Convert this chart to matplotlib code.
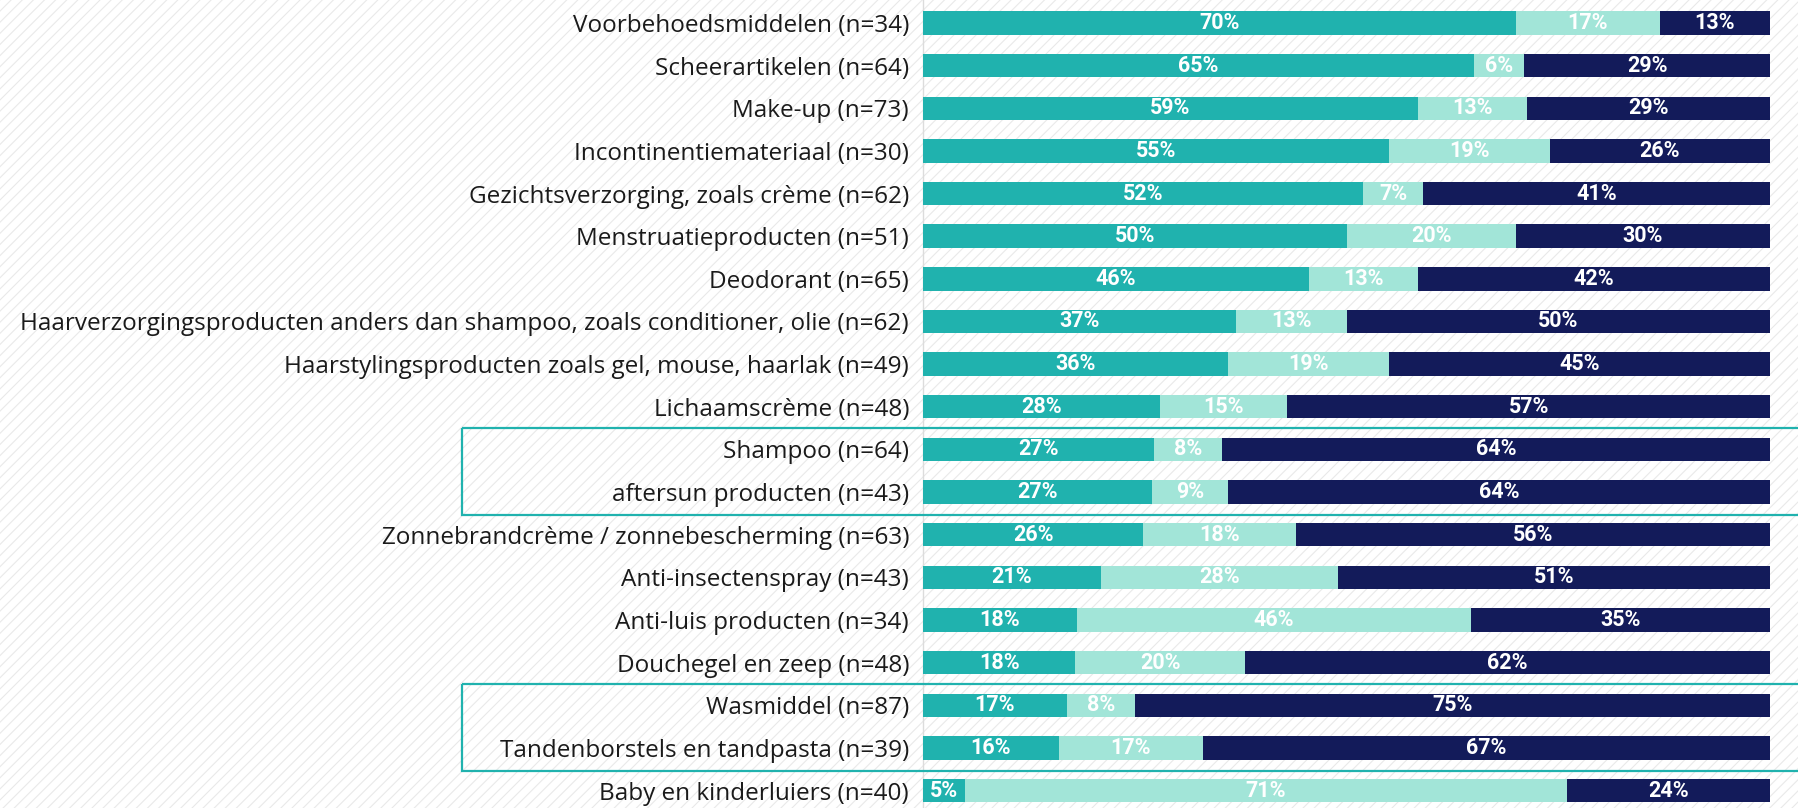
import numpy as np
import matplotlib.pyplot as plt
from matplotlib.patches import Rectangle

# --- data ---
categories = [
    "Voorbehoedsmiddelen (n=34)",
    "Scheerartikelen (n=64)",
    "Make-up (n=73)",
    "Incontinentiemateriaal (n=30)",
    "Gezichtsverzorging, zoals crème (n=62)",
    "Menstruatieproducten (n=51)",
    "Deodorant (n=65)",
    "Haarverzorgingsproducten anders dan shampoo, zoals conditioner, olie (n=62)",
    "Haarstylingsproducten zoals gel, mouse, haarlak (n=49)",
    "Lichaamscrème (n=48)",
    "Shampoo (n=64)",
    "aftersun producten (n=43)",
    "Zonnebrandcrème / zonnebescherming (n=63)",
    "Anti-insectenspray (n=43)",
    "Anti-luis producten (n=34)",
    "Douchegel en zeep (n=48)",
    "Wasmiddel (n=87)",
    "Tandenborstels en tandpasta (n=39)",
    "Baby en kinderluiers (n=40)",
]
teal_pct = [70, 65, 59, 55, 52, 50, 46, 37, 36, 28, 27, 27, 26, 21, 18, 18, 17, 16, 5]
mint_pct = [17, 6, 13, 19, 7, 20, 13, 13, 19, 15, 8, 9, 18, 28, 46, 20, 8, 17, 71]
navy_pct = [13, 29, 29, 26, 41, 30, 42, 50, 45, 57, 64, 64, 56, 51, 35, 62, 75, 67, 24]

# rows that get a highlight box (first row of each pair)
boxed_rows = [10, 16]

TEAL = "#20B2AE"
MINT = "#A2E5D8"
NAVY = "#131B5A"

plt.rcParams["font.family"] = ["Roboto", "DejaVu Sans"]
plt.rcParams["hatch.linewidth"] = 0.8

fig = plt.figure(figsize=(17.98, 8.08), dpi=100)

# faint diagonal hatching behind everything
fig.patches.append(Rectangle((0, 0), 1, 1, transform=fig.transFigure,
                             facecolor="white", edgecolor="#e9e9e9",
                             hatch="///", linewidth=0, zorder=-10))

ax = fig.add_axes([923 / 1798, 0, 847 / 1798, 1])
ax.set_facecolor("none")

y = np.arange(len(categories))
t = np.array(teal_pct, dtype=float)
m = np.array(mint_pct, dtype=float)
n = np.array(navy_pct, dtype=float)
tot = t + m + n
tw, mw, nw = t / tot * 100, m / tot * 100, n / tot * 100

H = 0.55
ax.barh(y, tw, height=H, color=TEAL, zorder=3)
ax.barh(y, mw, left=tw, height=H, color=MINT, zorder=3)
ax.barh(y, nw, left=tw + mw, height=H, color=NAVY, zorder=3)

for i in range(len(y)):
    lefts = [0, tw[i], tw[i] + mw[i]]
    widths = [tw[i], mw[i], nw[i]]
    vals = [teal_pct[i], mint_pct[i], navy_pct[i]]
    for l, w, v in zip(lefts, widths, vals):
        ax.text(l + w / 2, y[i], f"{v}%", ha="center", va="center",
                color="white", fontsize=15.5, fontweight="bold", zorder=4)

# highlight boxes
for r in boxed_rows:
    ax.add_patch(Rectangle((-54.4, r - 0.5), 160, 2.05, fill=False,
                           edgecolor=TEAL, linewidth=1.6, clip_on=False, zorder=5))

ax.set_xlim(0, 100)
ax.set_ylim(18.41, -0.54)
ax.set_xticks([])
ax.set_yticks(y)
ax.set_yticklabels(categories, fontsize=17.5, color="#1a1a1a",
                   family=["Open Sans", "DejaVu Sans"])
ax.tick_params(axis="y", length=0, pad=10)

for s in ["top", "right", "bottom"]:
    ax.spines[s].set_visible(False)
ax.spines["left"].set_color("#dcdcdc")
ax.spines["left"].set_linewidth(1)

fig.savefig("out.png", dpi=100)
